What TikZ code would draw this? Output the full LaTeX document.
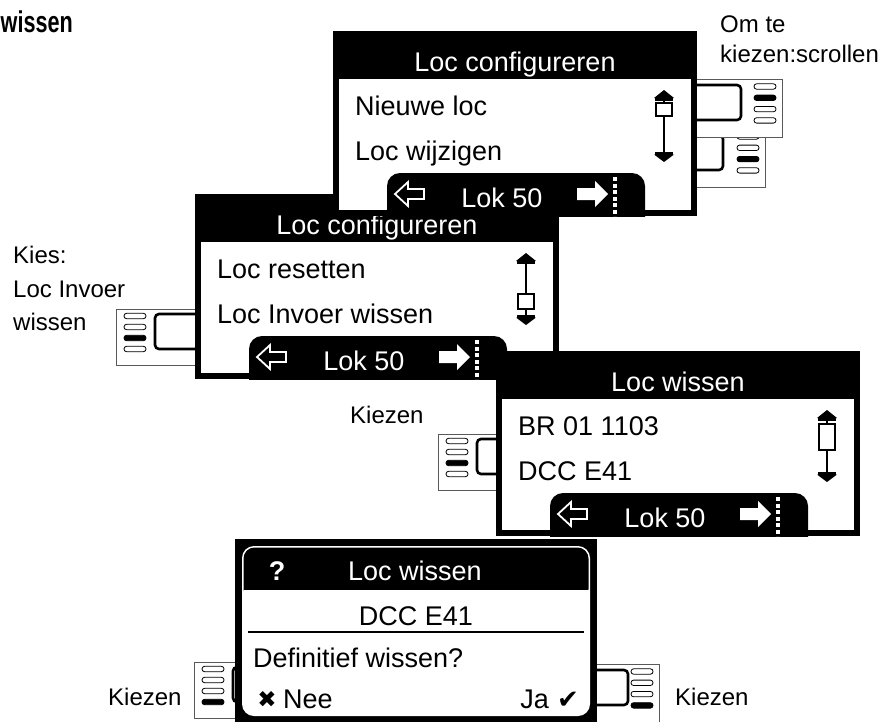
\documentclass[tikz,border=0pt]{standalone}
\usepackage{fontspec}
\setmainfont{Liberation Sans}
\newfontfamily\lcdfont{Liberation Sans}
\newfontfamily\symfont{DejaVu Sans}
\newfontfamily\headfont[FakeStretch=0.72]{Liberation Sans}
\tikzset{
  lcd/.style={font=\lcdfont\fontsize{27}{30}\selectfont, inner sep=0pt},
  lcdw/.style={lcd, text=white},
  lbl/.style={font=\fontsize{24}{30}\selectfont, inner sep=0pt, anchor=base west},
  devbox/.style={draw=black!65, line width=0.8pt, fill=white},
  devscr/.style={draw=black, line width=2.6pt, rounded corners=4pt},
  key/.style={draw=black, line width=0.8pt, fill=white, rounded corners=2.6pt},
  keyon/.style={draw=black, line width=0.8pt, fill=black, rounded corners=2.6pt},
}
% LCD screen: #1 x, #2 y (top-left), #3 title, #4 row1, #5 row2, #6 thumb offset, #7 thumb height, #8 name
\newcommand\lcdscreen[8]{%
  \begin{scope}[shift={(#1,#2)}]
    \fill[black] (0,0) rectangle (364,185);
    \fill[white] (6,48) rectangle (358,179);
    \node[lcdw, anchor=base] (#8t) at (182,40) {#3};
    \node[lcd, anchor=base west] (#8a) at (22,84) {#4};
    \node[lcd, anchor=base west] (#8b) at (22,129) {#5};
    \begin{scope}
      \clip (0,0) rectangle (364,185);
      \fill[black, rounded corners=13pt] (54,142) rectangle (312,215);
    \end{scope}
    \draw[white, line width=1.8pt, line join=miter] (62,163) -- (75,151) -- (75,158) -- (91,158) -- (91,168) -- (75,168) -- (75,175) -- cycle;
    \node[lcdw, anchor=base] (#8l) at (169,176) {Lok 50};
    \fill[white] (275,163) -- (262,150) -- (262,157) -- (244,157) -- (244,169) -- (262,169) -- (262,176) -- cycle;
    \draw[white, line width=4pt, dash pattern=on 4pt off 2.5pt] (282,146) -- (282,185);
    % scroll bar
    \fill[black] (321,67) -- (331,59) -- (341,67) -- cycle;
    \fill[black] (322,67) rectangle (340,69.5);
    \draw[black, line width=2pt] (331,69) -- (331,121);
    \filldraw[fill=white, draw=black, line width=2pt] (323,59+#6) rectangle (339,59+#6+#7);
    \fill[black] (322,121) rectangle (340,123.5);
    \fill[black] (321,123.5) -- (331,131) -- (341,123.5) -- cycle;
  \end{scope}}
% keypad facing right: #1 right x, #2 top y, #3 filled key, #4 screen right offset
\newcommand\devkeysR[4]{%
  \begin{scope}[shift={(#1,#2)}]
    \filldraw[devbox] (-100,0) rectangle (0,58);
    \draw[devscr] (-110,6) rectangle (-#4,41);
    \foreach \k in {1,2,3,4}{%
      \pgfmathsetmacro\ky{7.5+11.3*(\k-1)}%
      \ifnum\k=#3\relax\def\kst{keyon}\else\def\kst{key}\fi
      \draw[\kst] (-28,\ky-2.7) rectangle (-6,\ky+2.7);}
  \end{scope}}
% keypad facing left: #1 left x, #2 top y, #3 filled key
\newcommand\devkeysL[3]{%
  \begin{scope}[shift={(#1,#2)}]
    \filldraw[devbox] (0,0) rectangle (100,56);
    \draw[devscr] (39,5) rectangle (110,40);
    \foreach \k in {1,2,3,4}{%
      \pgfmathsetmacro\ky{7+11*(\k-1)}%
      \ifnum\k=#3\relax\def\kst{keyon}\else\def\kst{key}\fi
      \draw[\kst] (8,\ky-2.7) rectangle (30,\ky+2.7);}
  \end{scope}}
\begin{document}
\begin{tikzpicture}[x=1pt, y=-1pt]
  \fill[white] (0,0) rectangle (882,721);
  \useasboundingbox (0,0) rectangle (882,721);

  % heading
  \node[font=\headfont\bfseries\fontsize{30}{32}\selectfont, inner sep=0pt, anchor=base west] (head) at (0.5,32) {wissen};

  % left keypad + screen 2
  \devkeysL{116}{309}{3}
  \lcdscreen{195}{194}{Loc configureren}{Loc resetten}{Loc Invoer wissen}{41}{15}{s2}

  % right keypads + screen 1
  \devkeysR{765}{129}{3}{42}
  \devkeysR{782}{79}{2}{41}
  \lcdscreen{333}{31}{Loc configureren}{Nieuwe loc}{Loc wijzigen}{13}{13}{s1}

  % middle keypad + screen 3
  \devkeysL{438}{434}{3}
  \lcdscreen{496}{351}{Loc wissen}{BR 01 1103}{DCC E41}{14}{26}{s3}

  % dialog keypads + dialog
  \devkeysL{194}{662}{4}
  \devkeysR{659}{664}{4}{31}
  \fill[black] (235,539) rectangle (597,724);
  \fill[white, rounded corners=12pt] (242,546) rectangle (590,716);
  \fill[black, rounded corners=11pt] (243.5,547.5) rectangle (588.5,600);
  \fill[white] (243.5,590) rectangle (588.5,605);
  \node[lcdw, anchor=base, font=\lcdfont\bfseries\fontsize{27}{30}\selectfont] (dq) at (277,580) {?};
  \node[lcdw, anchor=base] (dt) at (415,580) {Loc wissen};
  \node[lcd, anchor=base] (dn) at (416,625) {DCC E41};
  \draw[black, line width=2pt] (248,632) -- (584,632);
  \node[lcd, anchor=base west] (dd) at (253,667) {Definitief wissen?};
  \node[anchor=base, inner sep=0pt, font=\symfont\fontsize{23}{24}\selectfont] (dx) at (267,707) {✖};
  \node[lcd, anchor=base west] (dnee) at (283,708) {Nee};
  \node[anchor=base east, inner sep=0pt, font=\symfont\fontsize{26}{27}\selectfont] (dv) at (579,708) {✔};
  \node[lcd, anchor=base east] (dja) at (549,708) {Ja};

  % labels
  \node[lbl] (om1) at (720,32) {Om te};
  \node[lbl] (om2) at (720,62) {kiezen:scrollen};
  \node[lbl] (k1) at (13,263) {Kies:};
  \node[lbl] (k2) at (13,297) {Loc Invoer};
  \node[lbl] (k3) at (13,330) {wissen};
  \node[lbl] (kz1) at (350,423) {Kiezen};
  \node[lbl] (kz2) at (108,705) {Kiezen};
  \node[lbl] (kz3) at (675,705) {Kiezen};
\end{tikzpicture}
\end{document}
